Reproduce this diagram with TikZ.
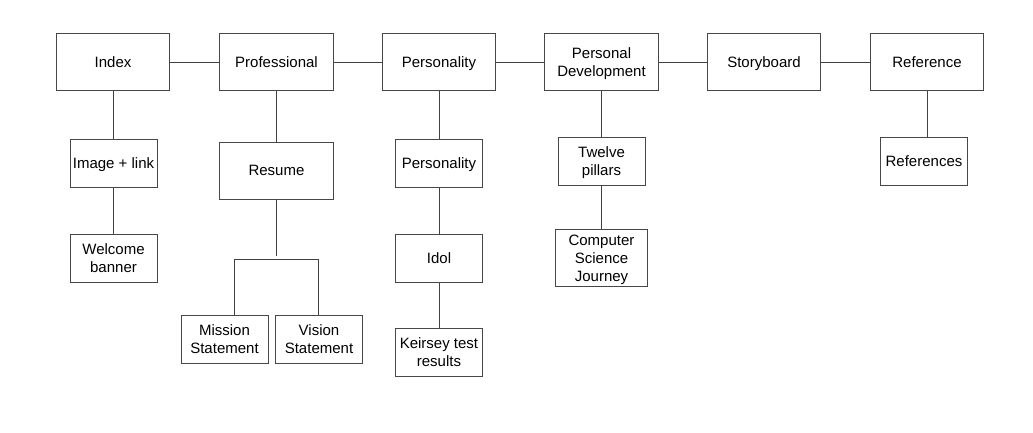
\documentclass[tikz,border=0pt]{standalone}
\usepackage{fontspec}
\setmainfont{Liberation Sans}
\newcommand{\sx}{\rule[-3pt]{0pt}{16.5pt}}
\begin{document}
\begin{tikzpicture}[x=1pt,y=-1pt,
  box/.style={draw=black!72, line width=1pt, fill=white, inner sep=0pt, align=center,
    font=\fontsize{15}{18}\selectfont, text=black},
  big/.style={box, minimum width=113.5pt, minimum height=56.5pt},
  small/.style={box, minimum width=87pt, minimum height=48pt},
  link/.style={draw=black!75, line width=1pt}]
\useasboundingbox (0,0) rectangle (1033,432);
\fill[white] (0,0) rectangle (1033,432);
% top row
\node[big] (index) at (113,62) {\sx Index};
\node[big] (prof) at (276.5,62) {\sx Professional};
\node[big] (pers) at (439,62) {\sx Personality};
\node[big] (pdev) at (601.5,62) {\sx Personal\\\sx Development};
\node[big] (story) at (764,62) {\sx Storyboard};
\node[big] (ref) at (927,62) {\sx Reference};
% second level
\node[small] (img) at (113.5,163.5) {\sx Image + link};
\node[big, minimum height=57pt] (resume) at (276.5,170.5) {\sx Resume};
\node[small] (pers2) at (439,163.5) {\sx Personality};
\node[small] (twelve) at (601.5,161) {\sx Twelve\\\sx pillars};
\node[small] (refs) at (924,161) {\sx References};
% third level
\node[small] (welcome) at (113.5,258) {\sx Welcome\\\sx banner};
\node[small] (idol) at (439,258) {\sx Idol};
\node[small, minimum width=92pt, minimum height=57pt] (csj) at (601.5,258) {\sx Computer\\\sx Science\\\sx Journey};
% fourth level
\node[small] (mission) at (224.5,339) {\sx Mission\\\sx Statement};
\node[small, minimum width=87.5pt] (vision) at (319,339) {\sx Vision\\\sx Statement};
\node[small] (keirsey) at (439,352.5) {\sx Keirsey test\\\sx results};
% connectors top row
\draw[link] (index.east) -- (prof.west);
\draw[link] (prof.east) -- (pers.west);
\draw[link] (pers.east) -- (pdev.west);
\draw[link] (pdev.east) -- (story.west);
\draw[link] (story.east) -- (ref.west);
% vertical connectors
\draw[link] (index.south) -- (index.south |- img.north);
\draw[link] (img.south) -- (welcome.north);
\draw[link] (prof.south) -- (resume.north);
\draw[link] (pers.south) -- (pers2.north);
\draw[link] (pers2.south) -- (idol.north);
\draw[link] (idol.south) -- (keirsey.north);
\draw[link] (pdev.south) -- (twelve.north);
\draw[link] (twelve.south) -- (csj.north);
\draw[link] (ref.south) -- (ref.south |- refs.north);
% resume bracket
\coordinate (rj) at (276.5,256);
\coordinate (bl) at (234,259);
\coordinate (br) at (318.7,259);
\draw[link] (resume.south) -- (rj);
\draw[link] (bl |- mission.north) -- (bl) -- (br) -- (br |- vision.north);
\end{tikzpicture}
\end{document}
